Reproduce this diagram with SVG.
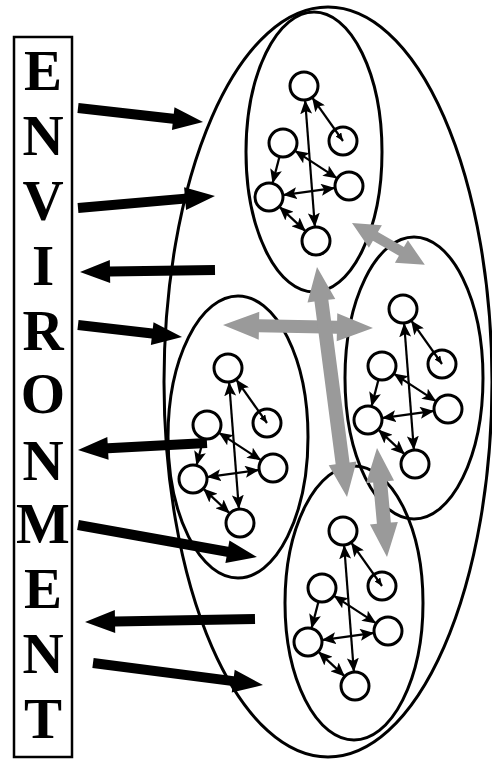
<svg xmlns="http://www.w3.org/2000/svg" xmlns:xlink="http://www.w3.org/1999/xlink" width="492" height="760" viewBox="0 0 492 760">
  <style>
    .ring { fill: none; stroke: #000; stroke-width: 3; }
    .node { fill: none; stroke: #000; stroke-width: 3; }
    .edge { fill: none; stroke: #000; stroke-width: 2.2; }
    .flow { fill: #000; }
    .link { fill: #9a9a9a; }
    .label { font-family: "Liberation Serif", "Times New Roman", serif; font-weight: bold; font-size: 57px; text-anchor: middle; fill: #000; }
  </style>
  <defs>
    <marker id="tip" viewBox="0 0 14 12" refX="14" refY="6" markerWidth="14" markerHeight="12" markerUnits="userSpaceOnUse" orient="auto-start-reverse">
      <path d="M0,0 L14,6 L0,12 L3,6 Z" fill="#000"/>
    </marker>
    <marker id="tick" viewBox="0 0 8 7" refX="8" refY="3.5" markerWidth="8" markerHeight="7" markerUnits="userSpaceOnUse" orient="auto">
      <path d="M0,0 L8,3.5 L0,7 Z" fill="#000"/>
    </marker>
    <!-- six-unit network, top unit at the origin -->
    <g id="net">
      <g class="edges">
        <line class="edge" x1="1.1" y1="14" x2="10.9" y2="141" marker-start="url(#tip)" marker-end="url(#tip)"/>
        <line class="edge" x1="8.1" y1="11.4" x2="39" y2="55" marker-start="url(#tip)" marker-end="url(#tick)"/>
        <line class="edge" x1="-9.3" y1="64.6" x2="33.3" y2="92.4" marker-start="url(#tip)" marker-end="url(#tip)"/>
        <line class="edge" x1="-24.5" y1="70.6" x2="-31.5" y2="97.4" marker-end="url(#tip)"/>
        <line class="edge" x1="-21.1" y1="109.1" x2="31.1" y2="101.9" marker-start="url(#tip)" marker-end="url(#tip)"/>
        <line class="edge" x1="-24.8" y1="120.6" x2="1.8" y2="145.4" marker-start="url(#tip)" marker-end="url(#tip)"/>
      </g>
      <circle class="node" cx="0" cy="0" r="14"/>
      <circle class="node" cx="39" cy="55" r="14"/>
      <circle class="node" cx="-21" cy="57" r="14"/>
      <circle class="node" cx="45" cy="100" r="14"/>
      <circle class="node" cx="-35" cy="111" r="14"/>
      <circle class="node" cx="12" cy="155" r="14"/>
    </g>
  </defs>

  <rect width="492" height="760" fill="#fff"/>

  <!-- environment label -->
  <g id="environment">
    <rect x="14" y="37" width="58" height="720" fill="none" stroke="#000" stroke-width="2.5"/>
    <text class="label" x="43" y="90">E</text>
    <text class="label" x="43" y="155">N</text>
    <text class="label" x="43" y="220">V</text>
    <text class="label" x="43" y="285">I</text>
    <text class="label" x="43" y="350">R</text>
    <text class="label" x="43" y="413">O</text>
    <text class="label" x="43" y="480">N</text>
    <text class="label" x="43" y="543">M</text>
    <text class="label" x="43" y="608">E</text>
    <text class="label" x="43" y="673">N</text>
    <text class="label" x="43" y="738">T</text>
  </g>

  <!-- enclosing system -->
  <g id="system">
    <ellipse class="ring" cx="328" cy="382" rx="164" ry="375"/>
  </g>

  <g id="unit-top">
    <ellipse class="ring" cx="314" cy="152" rx="68" ry="140"/>
    <use xlink:href="#net" href="#net" x="304" y="86"/>
  </g>
  <g id="unit-right">
    <ellipse class="ring" cx="414" cy="378" rx="69" ry="141"/>
    <use xlink:href="#net" href="#net" x="403" y="309"/>
  </g>
  <g id="unit-left">
    <ellipse class="ring" cx="238" cy="437" rx="70" ry="141"/>
    <use xlink:href="#net" href="#net" x="228" y="368"/>
  </g>
  <g id="unit-bottom">
    <ellipse class="ring" cx="354" cy="603" rx="69" ry="137"/>
    <use xlink:href="#net" href="#net" x="343" y="531"/>
  </g>

  <!-- exchanges with the environment -->
  <g id="connectors">
    <g class="flow">
      <path transform="translate(78,108) rotate(6.39)" d="M0,-5 L95.8,-5 L95.8,-11.5 L125.8,0 L95.8,11.5 L95.8,5 L0,5 Z"/>
      <path transform="translate(78,208) rotate(-5)" d="M0,-5 L107.5,-5 L107.5,-11.5 L137.5,0 L107.5,11.5 L107.5,5 L0,5 Z"/>
      <path transform="translate(215,270) rotate(179.15)" d="M0,-5 L105,-5 L105,-11.5 L135,0 L105,11.5 L105,5 L0,5 Z"/>
      <path transform="translate(78,325) rotate(6.58)" d="M0,-5 L74.7,-5 L74.7,-11.5 L104.7,0 L74.7,11.5 L74.7,5 L0,5 Z"/>
      <path transform="translate(207,443) rotate(176.9)" d="M0,-5 L99.2,-5 L99.2,-11.5 L129.2,0 L99.2,11.5 L99.2,5 L0,5 Z"/>
      <path transform="translate(78,525) rotate(10.14)" d="M0,-5 L151.8,-5 L151.8,-11.5 L181.8,0 L151.8,11.5 L151.8,5 L0,5 Z"/>
      <path transform="translate(255,619) rotate(178.99)" d="M0,-5 L140,-5 L140,-11.5 L170,0 L140,11.5 L140,5 L0,5 Z"/>
      <path transform="translate(93,663) rotate(7.37)" d="M0,-5 L141.4,-5 L141.4,-11.5 L171.4,0 L141.4,11.5 L141.4,5 L0,5 Z"/>
    </g>
    <!-- exchanges between units -->
    <g class="link">
      <path transform="translate(352,223) rotate(29.9)" d="M0,0 L27,-13 L27,-5 L57,-5 L57,-13 L84,0 L57,13 L57,5 L27,5 L27,13 Z"/>
      <path transform="translate(223,325) rotate(1.15)" d="M0,0 L36,-14 L36,-6.5 L114,-6.5 L114,-14 L150,0 L114,14 L114,6.5 L36,6.5 L36,14 Z"/>
      <path transform="translate(317,267) rotate(82.57)" d="M0,0 L34,-14 L34,-7 L198,-7 L198,-14 L232,0 L198,14 L198,7 L34,7 L34,14 Z"/>
      <path transform="translate(377,448) rotate(84.76)" d="M0,0 L34,-14 L34,-7 L75.5,-7 L75.5,-14 L109.5,0 L75.5,14 L75.5,7 L34,7 L34,14 Z"/>
    </g>
  </g>
</svg>
